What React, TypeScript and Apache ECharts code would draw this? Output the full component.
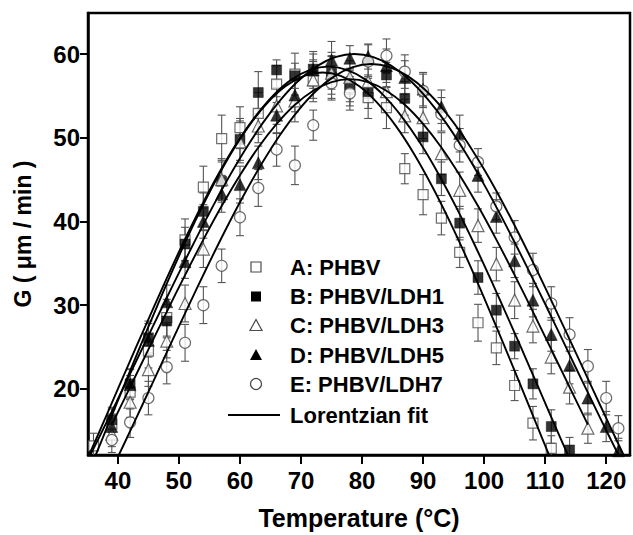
import React, { useEffect, useRef } from "react";
import * as echarts from "echarts";

// ---- data ----
const xTicks = [40, 50, 60, 70, 80, 90, 100, 110, 120];
const yTicks = [20, 30, 40, 50, 60];

const tempA = [36, 39, 42, 45, 48, 51, 54, 57, 60, 63, 66, 69, 72, 75, 78, 81, 84, 87, 90, 93, 96, 99, 102, 105, 108, 111];
const valA = [13.2, 15.8, 19.6, 24.5, 28.5, 37.8, 44.1, 49.9, 51.2, 52.9, 56.4, 57.6, 56.8, 57.2, 56.0, 54.8, 53.6, 46.3, 43.2, 40.4, 36.3, 27.9, 24.9, 20.4, 15.9, 12.9];
const errA = [1.5, 1.8, 2.0, 2.0, 2.2, 2.5, 2.5, 2.8, 2.5, 2.5, 2.2, 2.5, 2.5, 2.5, 2.2, 2.5, 2.5, 1.8, 2.4, 2.0, 1.8, 2.2, 2.0, 1.8, 2.0, 1.5];

const tempB = [39, 42, 45, 48, 51, 54, 57, 60, 63, 66, 69, 72, 75, 78, 81, 84, 87, 90, 93, 96, 99, 102, 105, 108, 111, 114];
const valB = [16.3, 20.6, 26.1, 28.1, 37.3, 41.2, 44.8, 49.8, 55.4, 58.1, 57.4, 58.2, 57.8, 56.3, 55.5, 57.5, 54.7, 50.1, 45.1, 39.8, 33.3, 29.4, 25.1, 20.6, 15.5, 12.7];
const errB = [1.5, 1.8, 2.0, 2.0, 2.0, 2.2, 2.5, 2.5, 2.5, 1.2, 1.5, 1.8, 2.0, 2.0, 2.0, 1.5, 2.0, 2.0, 2.0, 2.0, 2.0, 2.0, 1.5, 1.8, 2.0, 1.5];

const tempC = [39, 42, 45, 48, 51, 54, 57, 60, 63, 66, 69, 72, 75, 78, 81, 84, 87, 90, 93, 96, 99, 102, 105, 108, 111, 114, 117];
const valC = [14.6, 18.4, 22.3, 25.7, 30.2, 36.7, 45.0, 49.5, 51.4, 53.8, 54.4, 56.9, 57.7, 57.2, 56.7, 55.5, 52.6, 52.4, 48.1, 43.7, 39.5, 34.9, 30.6, 27.5, 23.8, 20.2, 15.3];
const errC = [1.5, 1.8, 2.0, 2.0, 2.2, 2.2, 2.5, 2.5, 2.0, 2.2, 2.5, 2.2, 2.5, 2.0, 2.0, 2.2, 2.0, 2.5, 2.5, 2.2, 2.0, 2.0, 2.2, 2.0, 2.0, 2.0, 1.8];

const tempD = [39, 42, 45, 48, 51, 54, 57, 60, 63, 66, 69, 72, 75, 78, 81, 84, 87, 90, 93, 96, 99, 102, 105, 108, 111, 114, 117, 120, 122];
const valD = [15.5, 20.5, 25.8, 30.4, 35.2, 40.0, 43.3, 44.4, 47.0, 52.7, 55.1, 58.1, 59.3, 59.5, 59.7, 58.6, 57.2, 55.8, 53.7, 50.5, 45.5, 40.6, 35.3, 30.6, 26.5, 22.8, 18.9, 15.5, 12.6];
const errD = [1.5, 1.8, 2.0, 2.0, 2.0, 2.0, 2.2, 2.2, 2.0, 2.2, 2.0, 2.2, 2.2, 1.5, 1.5, 2.0, 2.0, 2.0, 2.0, 2.2, 2.0, 2.0, 2.0, 2.0, 2.0, 2.2, 2.0, 1.8, 1.5];

const tempE = [39, 42, 45, 48, 51, 54, 57, 60, 63, 66, 69, 72, 75, 78, 81, 84, 87, 90, 93, 96, 99, 102, 105, 108, 111, 114, 117, 120, 122];
const valE = [13.9, 16.0, 18.9, 22.6, 25.5, 30.0, 34.7, 40.5, 44.0, 48.6, 46.7, 51.5, 56.5, 55.3, 59.1, 59.8, 57.9, 55.6, 52.8, 49.1, 47.1, 41.8, 38.1, 34.2, 30.2, 26.5, 22.7, 18.9, 15.3];
const errE = [1.5, 1.8, 2.0, 2.0, 2.2, 2.2, 2.0, 2.2, 2.2, 2.0, 2.3, 1.8, 2.0, 2.0, 2.0, 2.0, 2.0, 2.0, 2.0, 2.0, 1.6, 1.6, 2.0, 2.0, 2.0, 2.0, 2.0, 2.0, 1.5];

// Lorentzian fit curves
const fitAT = [34.5, 37.5, 40.5, 43.5, 46.5, 49.5, 52.5, 55.5, 58.5, 61.5, 64.5, 67.5, 70.5, 73.5, 76.5, 79.5, 82.5, 85.5, 88.5, 91.5, 94.5, 97.5, 100.5, 103.5, 106.5, 109.5, 112.5];
const fitAG = [8.8, 14.12, 19.49, 24.8, 30.01, 35.05, 39.8, 44.17, 48.1, 51.45, 54.17, 56.17, 57.39, 57.8, 57.39, 56.17, 54.17, 51.45, 48.1, 44.17, 39.8, 35.05, 30.01, 24.8, 19.49, 14.12, 8.8];

const fitBT = [32.5, 35.5, 38.5, 41.5, 44.5, 47.5, 50.5, 53.5, 56.5, 59.5, 62.5, 65.5, 68.5, 71.5, 74.5, 77.5, 80.5, 83.5, 86.5, 89.5, 92.5, 95.5, 98.5, 101.5, 104.5, 107.5, 110.5, 113.5, 116.5];
const fitBG = [7.52, 12.46, 17.47, 22.51, 27.5, 32.4, 37.13, 41.59, 45.7, 49.39, 52.53, 55.09, 56.97, 58.11, 58.5, 58.11, 56.97, 55.09, 52.53, 49.39, 45.7, 41.59, 37.13, 32.4, 27.5, 22.51, 17.47, 12.46, 7.52];

const fitCT = [39, 42, 45, 48, 51, 54, 57, 60, 63, 66, 69, 72, 75, 78, 81, 84, 87, 90, 93, 96, 99, 102, 105, 108, 111, 114, 117];
const fitCG = [15.72, 20.21, 24.72, 29.2, 33.59, 37.83, 41.84, 45.52, 48.83, 51.65, 53.94, 55.62, 56.65, 57.0, 56.65, 55.62, 53.94, 51.65, 48.83, 45.52, 41.84, 37.83, 33.59, 29.2, 24.72, 20.21, 15.72];

const fitDT = [33.75, 36.75, 39.75, 42.75, 45.75, 48.75, 51.75, 54.75, 57.75, 60.75, 63.75, 66.75, 69.75, 72.75, 75.75, 78.75, 81.75, 84.75, 87.75, 90.75, 93.75, 96.75, 99.75, 102.75, 105.75, 108.75, 111.75, 114.75, 117.75, 120.75, 123.75];
const fitDG = [9.6, 13.95, 18.42, 22.94, 27.49, 32.0, 36.42, 40.69, 44.73, 48.44, 51.77, 54.61, 56.92, 58.61, 59.65, 60.0, 59.65, 58.61, 56.92, 54.61, 51.77, 48.44, 44.73, 40.69, 36.42, 32.0, 27.49, 22.94, 18.42, 13.95, 9.6];

const fitET = [36.5, 39.5, 42.5, 45.5, 48.5, 51.5, 54.5, 57.5, 60.5, 63.5, 66.5, 69.5, 72.5, 75.5, 78.5, 81.5, 84.5, 87.5, 90.5, 93.5, 96.5, 99.5, 102.5, 105.5, 108.5, 111.5, 114.5, 117.5, 120.5, 123.5, 126.5];
const fitEG = [6.6, 11.11, 15.73, 20.42, 25.13, 29.8, 34.38, 38.8, 42.98, 46.82, 50.27, 53.22, 55.61, 57.36, 58.44, 58.8, 58.44, 57.36, 55.61, 53.22, 50.27, 46.82, 42.98, 38.8, 34.38, 29.8, 25.13, 20.42, 15.73, 11.11, 6.6];

const legendLabels = ["A: PHBV", "B: PHBV/LDH1", "C: PHBV/LDH3", "D: PHBV/LDH5", "E: PHBV/LDH7", "Lorentzian fit"];

const FONT = "'Liberation Sans', Arial, Helvetica, sans-serif";
const OPEN_STROKE = "#4a4a4a";
const ERR_COLOR = "#555555";

const zip = (a: number[], b: number[]) => a.map((t, i) => [t, b[i]]);
const zip3 = (a: number[], b: number[], c: number[]) => a.map((t, i) => [t, b[i], c[i]]);

function errSeries(t: number[], v: number[], e: number[]) {
  return {
    type: "custom",
    clip: true,
    z: 1,
    silent: true,
    encode: { x: 0, y: 1 },
    data: zip3(t, v, e),
    renderItem: (params: any, api: any) => {
      const x = api.value(0);
      const y = api.value(1);
      const er = api.value(2);
      const top = api.coord([x, y + er]);
      const bot = api.coord([x, y - er]);
      const w = 4;
      const st = { stroke: ERR_COLOR, lineWidth: 1.1 };
      return {
        type: "group",
        children: [
          { type: "line", shape: { x1: top[0], y1: top[1], x2: bot[0], y2: bot[1] }, style: st },
          { type: "line", shape: { x1: top[0] - w, y1: top[1], x2: top[0] + w, y2: top[1] }, style: st },
          { type: "line", shape: { x1: bot[0] - w, y1: bot[1], x2: bot[0] + w, y2: bot[1] }, style: st },
        ],
      };
    },
  };
}

function scatter(t: number[], v: number[], symbol: string, size: number, filled: boolean) {
  return {
    type: "scatter",
    z: 3,
    symbol,
    symbolSize: size,
    data: zip(t, v),
    itemStyle: filled
      ? { color: "#000", borderColor: "#000", borderWidth: 0.5 }
      : { color: "#fff", borderColor: OPEN_STROKE, borderWidth: 1.2 },
  };
}

function fitLine(t: number[], g: number[]) {
  return {
    type: "line",
    z: 4,
    smooth: 0.4,
    showSymbol: false,
    clip: true,
    data: zip(t, g),
    lineStyle: { color: "#000", width: 1.9 },
  };
}

export default function App() {
  const ref = useRef<HTMLDivElement>(null);

  useEffect(() => {
    document.body.style.margin = "0";
    if (!ref.current) return;
    const chart = echarts.init(ref.current, undefined, { renderer: "svg" });

    const lx = 256;
    const tx = 290;
    const rows = [267, 296.5, 325.5, 355, 384, 415];
    const legendGraphics: any[] = [
      { type: "rect", shape: { x: lx - 5, y: rows[0] - 5, width: 10, height: 10 }, style: { fill: "#fff", stroke: OPEN_STROKE, lineWidth: 1.2 } },
      { type: "rect", shape: { x: lx - 5, y: rows[1] - 5, width: 10, height: 10 }, style: { fill: "#000" } },
      { type: "polygon", shape: { points: [[lx - 6, rows[2] + 5], [lx + 6, rows[2] + 5], [lx, rows[2] - 6]] }, style: { fill: "#fff", stroke: OPEN_STROKE, lineWidth: 1.2 } },
      { type: "polygon", shape: { points: [[lx - 6, rows[3] + 5], [lx + 6, rows[3] + 5], [lx, rows[3] - 6]] }, style: { fill: "#000" } },
      { type: "circle", shape: { cx: lx, cy: rows[4], r: 5.5 }, style: { fill: "#fff", stroke: OPEN_STROKE, lineWidth: 1.2 } },
      { type: "line", shape: { x1: 228, y1: rows[5], x2: 280, y2: rows[5] }, style: { stroke: "#000", lineWidth: 2 } },
      ...legendLabels.map((s, i) => ({
        type: "text",
        x: tx,
        y: rows[i],
        style: { text: s, fill: "#000", font: `bold 22px ${FONT}`, textVerticalAlign: "middle", textAlign: "left" },
      })),
    ];

    const axisLabelStyle = { color: "#000", fontFamily: FONT, fontWeight: "bold" as const, fontSize: 24 };

    chart.setOption({
      animation: false,
      backgroundColor: "#fff",
      grid: { left: 88, right: 3, top: 13, bottom: 76, show: true, borderColor: "#000", borderWidth: 2.5, backgroundColor: "transparent" },
      xAxis: {
        type: "value",
        min: 35.1,
        max: 123.9,
        splitLine: { show: false },
        axisLine: { lineStyle: { color: "#000", width: 2.5 } },
        axisTick: { show: true, inside: false, length: 9, lineStyle: { color: "#000", width: 2 }, customValues: xTicks },
        axisLabel: { ...axisLabelStyle, margin: 13, customValues: xTicks },
        name: "Temperature (°C)",
        nameLocation: "middle",
        nameGap: 50,
        nameTextStyle: { color: "#000", fontFamily: FONT, fontWeight: "bold", fontSize: 25 },
      },
      yAxis: {
        type: "value",
        min: 12.1,
        max: 64.9,
        splitLine: { show: false },
        axisLine: { lineStyle: { color: "#000", width: 2.5 } },
        axisTick: { show: true, inside: false, length: 8, lineStyle: { color: "#000", width: 2 }, customValues: yTicks },
        axisLabel: { ...axisLabelStyle, margin: 8, customValues: yTicks },
        name: "G ( μm / min )",
        nameLocation: "middle",
        nameRotate: 90,
        nameGap: 54,
        nameTextStyle: { color: "#000", fontFamily: FONT, fontWeight: "bold", fontSize: 23 },
      },
      series: [
        errSeries(tempA, valA, errA),
        errSeries(tempB, valB, errB),
        errSeries(tempC, valC, errC),
        errSeries(tempD, valD, errD),
        errSeries(tempE, valE, errE),
        scatter(tempA, valA, "rect", 10, false),
        scatter(tempB, valB, "rect", 10, true),
        scatter(tempC, valC, "triangle", 12, false),
        scatter(tempD, valD, "triangle", 12, true),
        scatter(tempE, valE, "circle", 11, false),
        fitLine(fitAT, fitAG),
        fitLine(fitBT, fitBG),
        fitLine(fitCT, fitCG),
        fitLine(fitDT, fitDG),
        fitLine(fitET, fitEG),
      ],
      graphic: legendGraphics,
    });

    return () => chart.dispose();
  }, []);

  return <div ref={ref} style={{ width: 633, height: 535 }} />;
}
